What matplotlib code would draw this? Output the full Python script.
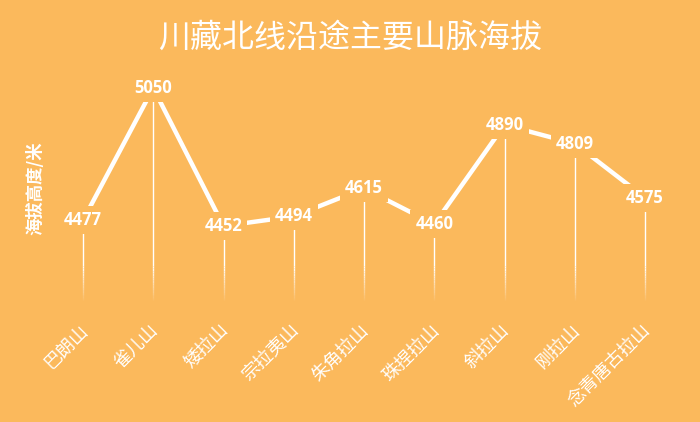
import numpy as np
import matplotlib
matplotlib.use("Agg")
import matplotlib.pyplot as plt
from matplotlib.collections import LineCollection

plt.rcParams['font.family'] = ['Noto Sans CJK SC', 'DejaVu Sans']

# data
mountains = ["巴朗山", "雀儿山", "矮拉山", "宗拉夷山", "朱角拉山",
             "珠捏拉山", "斜拉山", "刚拉山", "念青唐古拉山"]
elevations = [4477, 5050, 4452, 4494, 4615, 4460, 4890, 4809, 4575]

title = "川藏北线沿途主要山脉海拔"
ylabel = "海拔高度/米"

BG = "#FBB95C"
WHITE = "white"

fig = plt.figure(figsize=(7, 4.22), dpi=100, facecolor=BG)
ax = fig.add_axes([0, 0, 1, 1], facecolor=BG)

# map categories / values so the plot area sits like the reference
ax.set_xlim(-83 / 70.25, (700 - 83) / 70.25)
ax.set_ylim(3602.9, 5431.3)
ax.axis("off")

x = np.arange(len(mountains))
y = np.array(elevations)

base = 4120      # where the drop lines fade out
fade_start = 4280

# drop lines, solid part then a fade
for xi, yi in zip(x, y):
    ax.plot([xi, xi], [yi, fade_start], color=WHITE, lw=1.0, zorder=2,
            solid_capstyle="butt")
    ys = np.linspace(fade_start, base, 16)
    segs = [[(xi, ys[k]), (xi, ys[k + 1])] for k in range(len(ys) - 1)]
    alphas = np.linspace(1.0, 0.0, len(segs))
    cols = [(1, 1, 1, a) for a in alphas]
    ax.add_collection(LineCollection(segs, colors=cols, linewidths=1.0, zorder=2))

# main line
ax.plot(x, y, color=WHITE, lw=3.2, zorder=3, solid_capstyle="butt")

# value labels with background box that cuts the line
for xi, yi in zip(x, y):
    ax.text(xi, yi, f"{yi}", color=WHITE, fontsize=12, fontweight="bold",
            family=["Open Sans", "DejaVu Sans"], ha="center", va="center",
            zorder=5,
            bbox=dict(boxstyle="square,pad=0.3", facecolor=BG, edgecolor="none"))

# category labels
for xi, name in zip(x, mountains):
    ax.text(xi - 0.06, 4040, name, color=WHITE, fontsize=13, rotation=45,
            rotation_mode="anchor", ha="right", va="top", zorder=5)

fig.text(0.5, 0.91, title, color=WHITE, fontsize=23, ha="center",
         va="center", fontweight="light")
fig.text(0.05, 0.555, ylabel, color=WHITE, fontsize=12.5, fontweight="bold",
         rotation=90, ha="center", va="center")

fig.savefig("out.png", dpi=100, facecolor=BG)
